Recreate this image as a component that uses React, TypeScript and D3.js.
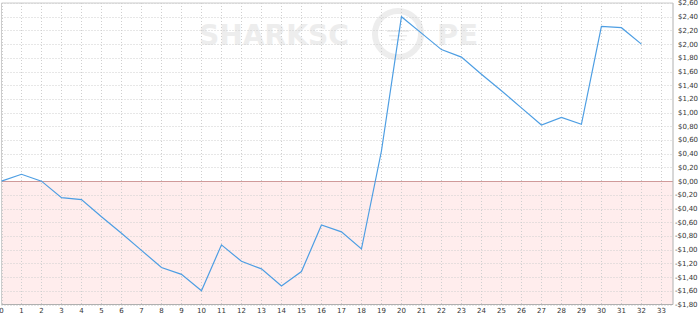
import React from "react";
import * as d3 from "d3";

const games: number[] = [0,1,2,3,4,5,6,7,8,9,10,11,12,13,14,15,16,17,18,19,20,21,22,23,24,25,26,27,28,29,30,31,32];
const profit: number[] = [0.00, 0.10, 0.00, -0.24, -0.27, -0.52, -0.76, -1.01, -1.26, -1.36, -1.60, -0.93, -1.17, -1.28, -1.53, -1.32, -0.64, -0.74, -0.99, 0.44, 2.40, 2.16, 1.92, 1.81, 1.56, 1.32, 1.07, 0.82, 0.93, 0.83, 2.26, 2.24, 2.00];
const xTicks: number[] = [0,1,2,3,4,5,6,7,8,9,10,11,12,13,14,15,16,17,18,19,20,21,22,23,24,25,26,27,28,29,30,31,32,33];
const yTicks: number[] = [-1.8,-1.6,-1.4,-1.2,-1.0,-0.8,-0.6,-0.4,-0.2,0,0.2,0.4,0.6,0.8,1.0,1.2,1.4,1.6,1.8,2.0,2.2,2.4,2.6];

const W = 700, H = 318;
const L = 1.5, R = 673, T = 3, B = 304.5;

const fmt = (v: number) => {
  const r = Math.round(v * 100) / 100;
  return (r < 0 ? "-" : "") + "$" + Math.abs(r).toFixed(2).replace(".", ",");
};

export default function App() {
  const x = d3.scaleLinear().domain([0, 33.58]).range([L, R]);
  const y = d3.scaleLinear().domain([-1.8, 2.6]).range([B, T]);
  const line = d3.line<number>().x((_, i) => x(games[i])).y((d) => y(d));
  const font = "'DejaVu Sans', Verdana, sans-serif";
  return (
    <svg width={W} height={H} style={{ position: "absolute", left: 0, top: 0, background: "#fff" }}>
      <rect x={L} y={y(0)} width={R - L} height={B - y(0)} fill="#ffeded" />
      <g fill="#ededed" fontFamily={font} fontWeight="bold" fontSize={28}>
        <text x={199} y={45} textLength={150} lengthAdjust="spacingAndGlyphs">SHARKSC</text>
        <text x={437} y={45} textLength={41} lengthAdjust="spacingAndGlyphs">PE</text>
        <circle cx={398} cy={34} r={23} fill="none" stroke="#ededed" strokeWidth={6} />
        <rect x={387} y={30} width={22} height={2} />
        <rect x={389} y={35} width={18} height={1.5} />
        <rect x={391} y={39} width={14} height={1.5} />
      </g>
      <g stroke="#cfcfcf" strokeWidth={1} strokeDasharray="1,2">
        {xTicks.map((t) => (
          <line key={"vx" + t} x1={Math.round(x(t)) + 0.5} x2={Math.round(x(t)) + 0.5} y1={T} y2={B} />
        ))}
        {yTicks.filter((t) => Math.abs(t) > 1e-9).map((t) => (
          <line key={"hy" + t} x1={L} x2={R} y1={Math.round(y(t)) + 0.5} y2={Math.round(y(t)) + 0.5} />
        ))}
      </g>
      <line x1={L} x2={R} y1={Math.round(y(0)) + 0.5} y2={Math.round(y(0)) + 0.5} stroke="#d09a9a" strokeWidth={1} />
      <line x1={L} x2={R} y1={T} y2={T} stroke="#cccccc" />
      <line x1={L} x2={L} y1={T} y2={B} stroke="#cccccc" />
      <line x1={L} x2={R} y1={B} y2={B} stroke="#b0b0b0" />
      <line x1={R} x2={R} y1={T} y2={B} stroke="#b0b0b0" />
      <path d={line(profit) || ""} fill="none" stroke="#4d9ee3" strokeWidth={1.2} />
      <g fontFamily={font} fontSize={7} fill="#333">
        {xTicks.map((t) => (
          <text key={"xl" + t} x={x(t)} y={313} textAnchor="middle">{t}</text>
        ))}
        {yTicks.map((t) => (
          <text key={"yl" + t} x={t < -1e-9 ? 675 : 678} y={y(t)} dy="0.35em">{fmt(t)}</text>
        ))}
      </g>
    </svg>
  );
}
